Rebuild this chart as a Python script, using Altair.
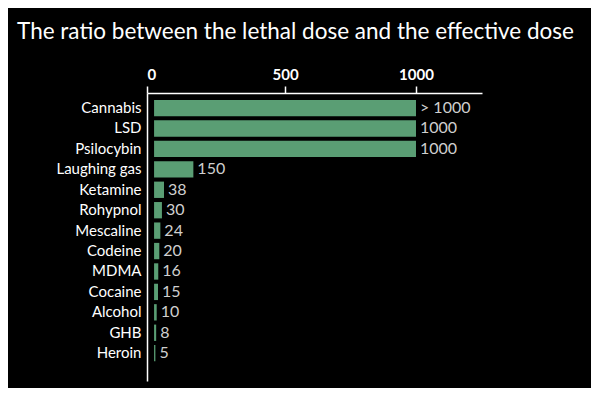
import altair as alt
import pandas as pd

drugs = ["Cannabis", "LSD", "Psilocybin", "Laughing gas", "Ketamine", "Rohypnol",
         "Mescaline", "Codeine", "MDMA", "Cocaine", "Alcohol", "GHB", "Heroin"]
ratios = [1000, 1000, 1000, 150, 38, 30, 24, 20, 16, 15, 10, 8, 5]
labels = ["> 1000", "1000", "1000", "150", "38", "30", "24", "20", "16", "15", "10", "8", "5"]
ticks = [-27, 500, 1000]

df = pd.DataFrame({"drug": drugs, "ratio": ratios, "label": labels})

FONT = "Lato"

x = alt.X("ratio:Q",
          scale=alt.Scale(domain=[-27, 1252], nice=False, zero=False),
          axis=alt.Axis(orient="top", values=ticks, title=None, grid=False, format="d",
                        labelExpr="datum.value < 0 ? '0' : datum.label",
                        labelColor="white", labelFont=FONT, labelFontSize=15,
                        labelFontWeight="bold", labelPadding=4,
                        domainColor="white", tickColor="white", tickSize=7,
                        domainWidth=1.5, tickWidth=1.5))
y = alt.Y("drug:N", sort=drugs,
          scale=alt.Scale(paddingInner=0.2, paddingOuter=0.65, align=0.26),
          axis=alt.Axis(title=None, ticks=False, labelColor="white", labelFont=FONT,
                        labelFontSize=15, labelPadding=6, domainColor="white",
                        domainWidth=1.5))

bars = alt.Chart(df).transform_calculate(zero="0").mark_bar(color="#5a9e74").encode(
    x=x, x2=alt.X2("zero:Q"), y=y)

text = alt.Chart(df).mark_text(align="left", dx=4, color="#cfcfcf", font=FONT,
                               fontSize=16).encode(
    x=alt.X("ratio:Q"), y=alt.Y("drug:N", sort=drugs), text="label:N")

chart = (bars + text).properties(
    width=335, height=288,
    background="black",
    title=alt.TitleParams("The ratio between the lethal dose and the effective dose",
                          color="white", font=FONT, fontSize=22.5, fontWeight="normal",
                          anchor="middle", offset=24, dx=-19),
    padding={"left": 9, "right": 17, "top": 12, "bottom": 7},
).configure_view(stroke=None)

chart.save("out.html", embed_options={"renderer": "svg", "actions": False})
